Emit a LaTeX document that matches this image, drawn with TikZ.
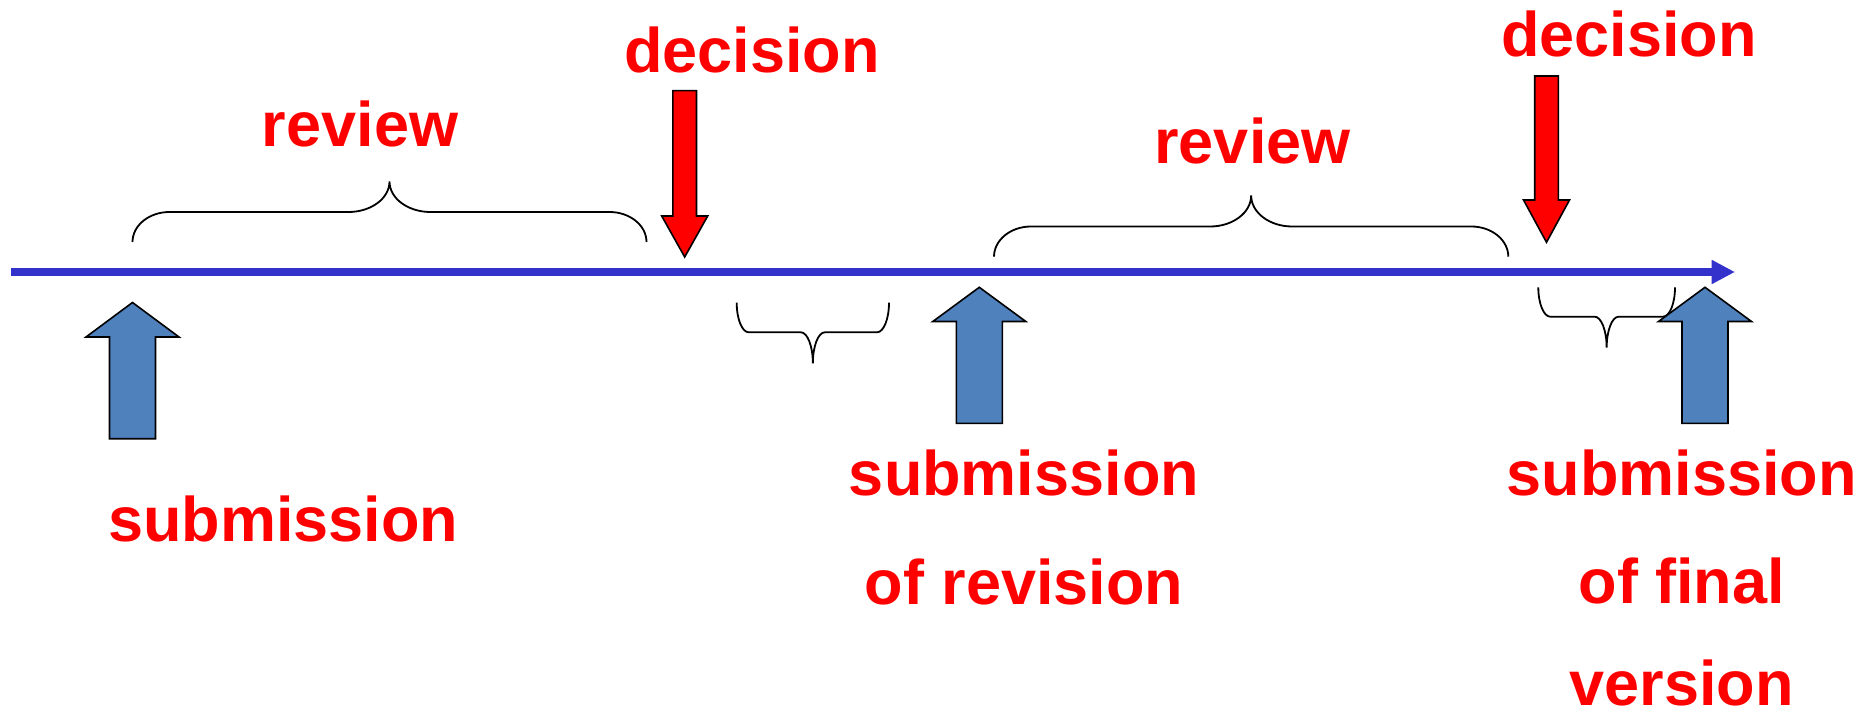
\documentclass[tikz,border=0pt]{standalone}
\usepackage{fontspec}
\setmainfont{Liberation Sans}
\usetikzlibrary{arrows.meta}
\definecolor{linecol}{RGB}{51,51,204}
\definecolor{arrowblue}{RGB}{79,129,189}
% #1 xL, #2 xR, #3 Y of ends, #4 Y of flat part, #5 Y of tip, #6 end radius, #7 middle radius
\newcommand\curlybrace[7]{%
  \pgfmathsetmacro\cbxm{(#1+#2)/2}%
  \pgfmathsetmacro\cbA{#3+0.552*(#4-#3)}%
  \pgfmathsetmacro\cbB{#1+0.448*#6}%
  \pgfmathsetmacro\cbC{#1+#6}%
  \pgfmathsetmacro\cbD{\cbxm-#7}%
  \pgfmathsetmacro\cbE{\cbxm-0.448*#7}%
  \pgfmathsetmacro\cbF{#5-0.552*(#5-#4)}%
  \pgfmathsetmacro\cbG{\cbxm+0.448*#7}%
  \pgfmathsetmacro\cbH{\cbxm+#7}%
  \pgfmathsetmacro\cbI{#2-#6}%
  \pgfmathsetmacro\cbJ{#2-0.448*#6}%
  \draw[bracestyle] (#1,#3) .. controls (#1,\cbA) and (\cbB,#4) .. (\cbC,#4)
    -- (\cbD,#4) .. controls (\cbE,#4) and (\cbxm,\cbF) .. (\cbxm,#5)
    .. controls (\cbxm,\cbF) and (\cbG,#4) .. (\cbH,#4)
    -- (\cbI,#4) .. controls (\cbJ,#4) and (#2,\cbA) .. (#2,#3);%
}
\begin{document}
\begin{tikzpicture}[x=1pt,y=1pt,
  lbl/.style={inner sep=0pt, anchor=base, text=red, align=center,
    font=\fontsize{63}{108.3}\selectfont\bfseries},
  bluearrow/.style={fill=arrowblue, draw=black, line width=1.6pt, line join=miter},
  redarrow/.style={fill=red, draw=black, line width=1.6pt, line join=miter},
  bracestyle/.style={draw=black, line width=1.8pt},
  timeline/.style={draw=linecol, line width=7.7pt, -{Triangle[length=23.3pt,width=22.6pt]}}]
\useasboundingbox (0,0) rectangle (1869,716);
\fill[white] (0,0) rectangle (1869,716);

% braces
\curlybrace{132.5}{646.5}{474}{504}{534.5}{37}{41}
\curlybrace{994}{1508.3}{459.3}{489.5}{520.5}{37}{41}
\curlybrace{736.7}{889}{413.3}{383.7}{352.7}{12}{12}
\curlybrace{1538.3}{1675}{428.7}{399.3}{368.3}{12}{12}

% timeline
\coordinate (tstart) at (11,444);
\coordinate (tend) at (1735,444);
\draw[timeline] (tstart) -- (tend);

% submission arrows (blue, upward)
\draw[bluearrow] (132.5,413.5) -- (179,379) -- (155.5,379) -- (155.5,277.3)
  -- (109.5,277.3) -- (109.5,379) -- (86,379) -- cycle;
\draw[bluearrow] (979.3,428.7) -- (1025.8,394.5) -- (1002.3,394.5) -- (1002.3,292.7)
  -- (956.3,292.7) -- (956.3,394.5) -- (932.8,394.5) -- cycle;
\draw[bluearrow] (1705,428.7) -- (1751.5,394.5) -- (1728,394.5) -- (1728,292.7)
  -- (1682,292.7) -- (1682,394.5) -- (1658.5,394.5) -- cycle;

% decision arrows (red, downward)
\draw[redarrow] (684.7,459) -- (707.7,500) -- (696.5,500) -- (696.5,625.3)
  -- (672.9,625.3) -- (672.9,500) -- (661.7,500) -- cycle;
\draw[redarrow] (1546.5,473.7) -- (1569.5,516) -- (1558.3,516) -- (1558.3,640)
  -- (1534.7,640) -- (1534.7,516) -- (1523.5,516) -- cycle;

% labels (anchor=base of a multi-line node is its last baseline)
\node[lbl] (dec1) at (752,643.3) {decision};
\node[lbl] (rev1) at (360,569.3) {review};
\node[lbl] (dec2) at (1629,659.3) {decision};
\node[lbl] (rev2) at (1252.5,552.7) {review};
\node[lbl] (sub1) at (283.3,174.3) {submission};
\node[lbl] (sub2) at (1024,112) {submission\\of revision};
\node[lbl, text depth=0pt] (sub3) at (1681.8,11) {submission\\of final\\[-7pt]version};
\end{tikzpicture}
\end{document}
